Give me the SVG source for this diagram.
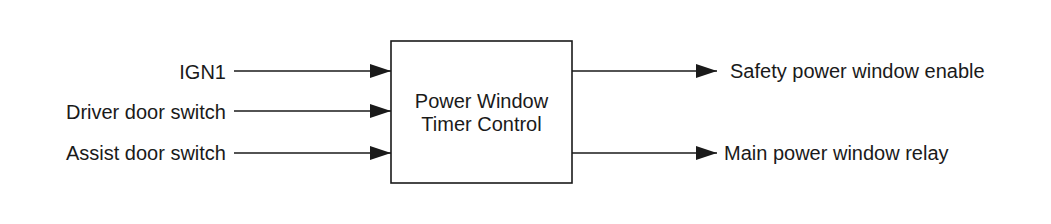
<svg xmlns="http://www.w3.org/2000/svg" width="1051" height="224" viewBox="0 0 1051 224">
<style>
text{font-family:"Liberation Sans",Arial,sans-serif;font-size:20px;fill:#1a1a1a}
.ln{stroke:#1a1a1a;stroke-width:1.6;fill:none}
.box{stroke:#1a1a1a;stroke-width:1.6;fill:#fff}
</style>
<defs>
<marker id="ah" markerUnits="userSpaceOnUse" markerWidth="22" markerHeight="16" refX="21" refY="7" orient="auto">
<path d="M0,0 L21,7 L0,14 Z" fill="#1a1a1a"/>
</marker>
</defs>
<rect width="1051" height="224" fill="#fff"/>
<g id="connectors">
<line class="ln" x1="234" y1="71" x2="391" y2="71" marker-end="url(#ah)"/>
<line class="ln" x1="234" y1="111" x2="391" y2="111" marker-end="url(#ah)"/>
<line class="ln" x1="234" y1="153" x2="391" y2="153" marker-end="url(#ah)"/>
<line class="ln" x1="572" y1="71" x2="717" y2="71" marker-end="url(#ah)"/>
<line class="ln" x1="572" y1="153" x2="717" y2="153" marker-end="url(#ah)"/>
</g>
<g id="in-ign1"><text x="226" y="78.5" text-anchor="end">IGN1</text></g>
<g id="in-driver"><text x="226" y="119" text-anchor="end">Driver door switch</text></g>
<g id="in-assist"><text x="226" y="159.5" text-anchor="end">Assist door switch</text></g>
<g id="timer-control">
<rect class="box" x="391" y="41" width="181" height="142"/>
<text x="481.5" y="108" text-anchor="middle">Power Window</text>
<text x="481.5" y="131" text-anchor="middle">Timer Control</text>
</g>
<g id="out-safety"><text x="730" y="78">Safety power window enable</text></g>
<g id="out-main"><text x="724" y="159.5">Main power window relay</text></g>
</svg>
